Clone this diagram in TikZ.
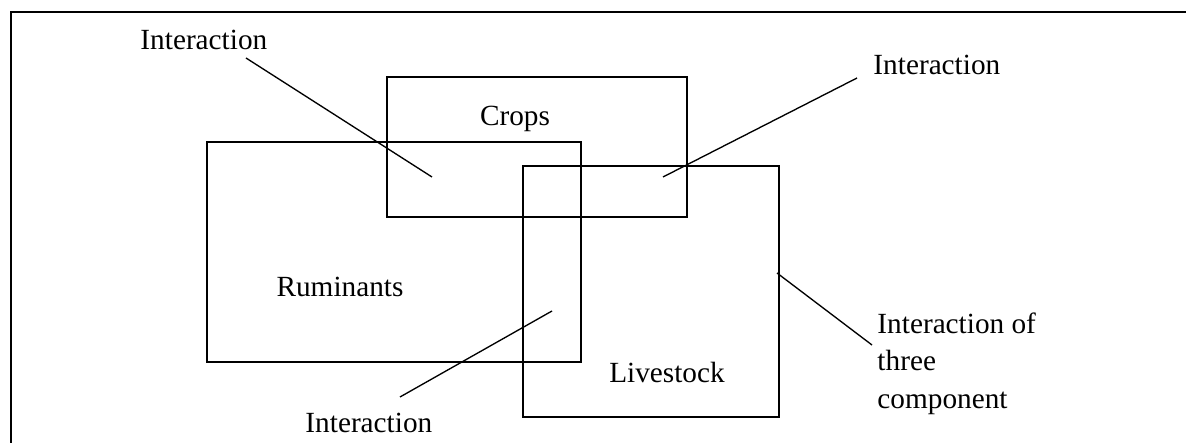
\documentclass[tikz,border=0pt]{standalone}
\usepackage{fontspec}
\setmainfont{Liberation Serif}

\begin{document}
\begin{tikzpicture}[x=0.41pt, y=-0.41pt,
  frame/.style={line width=0.75pt},
  box/.style={line width=0.55pt},
  pointer/.style={line width=0.55pt},
  lbl/.style={inner sep=0pt, font=\fontsize{12}{15.4}\selectfont}]
  \useasboundingbox (0,0) rectangle (1186,443);
  \draw[frame] (11,443) -- (11,12) -- (1186,12);
  \draw[box] (387,77) -- (687,77) -- (687,217) -- (387,217) -- cycle;
  \draw[box] (207,142) -- (581,142) -- (581,362) -- (207,362) -- cycle;
  \draw[box] (523,166) -- (779,166) -- (779,417) -- (523,417) -- cycle;
  \node[lbl, anchor=base] (crops) at (515,126) {Crops};
  \node[lbl, anchor=base] (rumin) at (340,297) {Ruminants};
  \node[lbl, anchor=base] (lives) at (667,383) {Livestock};
  \node[lbl, anchor=base west] (intCR) at (140,50) {Interaction};
  \node[lbl, anchor=base west] (intCL) at (873,75) {Interaction};
  \node[lbl, anchor=base west] (intRL) at (305,433) {Interaction};
  \node[lbl, anchor=north west, align=left] (intAll) at (877,312) {Interaction of\\three\\component};
  \coordinate (inCR) at (432,177);
  \coordinate (inCL) at (663,177);
  \coordinate (inRL) at (552,311);
  \coordinate (lvEdge) at (777,273);
  \draw[pointer] ([shift={(106,8)}]intCR.base west) -- (inCR);
  \draw[pointer] ([shift={(-16,3)}]intCL.base west) -- (inCL);
  \draw[pointer] ([shift={(95,-36)}]intRL.base west) -- (inRL);
  \draw[pointer] ([shift={(-5,33)}]intAll.north west) -- (lvEdge);
\end{tikzpicture}
\end{document}
